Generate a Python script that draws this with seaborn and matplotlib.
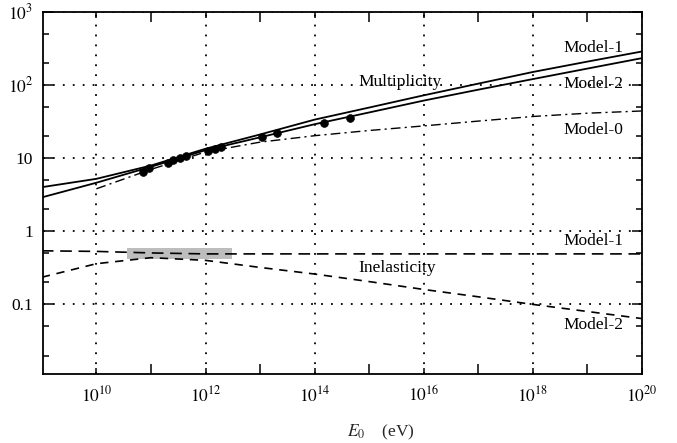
import numpy as np
import pandas as pd
import matplotlib
matplotlib.use("Agg")
import matplotlib.pyplot as plt
import matplotlib.ticker as mticker
import seaborn as sns

energy = [1e9, 1e10, 1e11, 1e12, 1e13, 1e14, 1e15, 1e16, 1e17, 1e18, 1e19, 1e20]

# multiplicity
mult_model1 = [4.0, 5.2, 7.9, 13.4, 21.0, 33.5, 49.0, 72.0, 104.0, 150.0, 208.0, 286.0]
mult_model2 = [2.9, 4.6, 7.6, 12.8, 19.2, 29.0, 42.0, 61.0, 86.0, 120.0, 167.0, 232.0]
energy_m0 = [1e10, 1e11, 1e12, 1e13, 1e14, 1e15, 1e16, 1e17, 1e18, 1e19, 1e20]
mult_model0 = [3.8, 7.0, 12.1, 16.5, 20.2, 23.8, 27.5, 32.0, 37.0, 41.0, 44.0]

# inelasticity
inel_model1 = [0.54, 0.53, 0.505, 0.49, 0.49, 0.49, 0.49, 0.49, 0.49, 0.49, 0.49, 0.49]
inel_model2 = [0.235, 0.36, 0.435, 0.40, 0.32, 0.26, 0.205, 0.16, 0.127, 0.10, 0.08, 0.064]

# measured multiplicities
data_energy = [10**10.86, 10**10.97, 10**11.31, 10**11.41, 10**11.53, 10**11.65,
               10**12.05, 10**12.17, 10**12.28, 10**13.03, 10**13.31, 10**14.17, 10**14.65]
data_mult = [6.5, 7.2, 8.6, 9.4, 10.1, 10.7, 12.6, 13.2, 14.0, 19.6, 22.2, 29.9, 35.6]

# grey band (measured inelasticity range)
band_x = (3.6e10, 3.1e12)
band_y = (0.42, 0.59)

sns.set_style("ticks")
plt.rcParams['font.family'] = ['Liberation Serif', 'DejaVu Serif']
plt.rcParams['mathtext.fontset'] = 'stix'

fig = plt.figure(figsize=(6.77, 4.43), dpi=100)
ax = fig.add_axes([0.0635, 0.1558, 0.8848, 0.8178])

ax.fill_between(band_x, band_y[0], band_y[1], color='#bdbdbd', lw=0, zorder=1)

curves = pd.DataFrame({'E': energy, 'm1': mult_model1, 'm2': mult_model2,
                       'k1': inel_model1, 'k2': inel_model2})
m0 = pd.DataFrame({'E': energy_m0, 'm0': mult_model0})
pts = pd.DataFrame({'E': data_energy, 'n': data_mult})

sns.lineplot(data=curves, x='E', y='m1', color='black', lw=1.3, ax=ax, zorder=3)
sns.lineplot(data=curves, x='E', y='m2', color='black', lw=1.3, ax=ax, zorder=3)
sns.lineplot(data=m0, x='E', y='m0', color='black', lw=1.0,
             linestyle=(0, (7, 3, 1.5, 3)), ax=ax, zorder=3)
sns.lineplot(data=curves, x='E', y='k1', color='black', lw=1.2,
             linestyle=(0, (7, 4)), ax=ax, zorder=3)
sns.lineplot(data=curves, x='E', y='k2', color='black', lw=1.2,
             linestyle=(0, (5, 4)), ax=ax, zorder=3)
sns.scatterplot(data=pts, x='E', y='n', color='black', s=32, edgecolor='black',
                ax=ax, zorder=4)

ax.set_xscale('log')
ax.set_yscale('log')
ax.set_xlim(1.05e9, 1e20)
ax.set_ylim(0.0112, 1000)

xt = [1e10, 1e12, 1e14, 1e16, 1e18, 1e20]
ax.xaxis.set_major_locator(mticker.FixedLocator(xt))
ax.set_xticklabels([r'$10^{10}$', r'$10^{12}$', r'$10^{14}$', r'$10^{16}$',
                    r'$10^{18}$', r'$10^{20}$'])
ax.xaxis.set_minor_locator(mticker.FixedLocator([1e11, 1e13, 1e15, 1e17, 1e19]))
ax.xaxis.set_minor_formatter(mticker.NullFormatter())

yt = [0.1, 1, 10, 100, 1000]
ax.yaxis.set_major_locator(mticker.FixedLocator(yt))
ax.set_yticklabels(['0.1', '1', '10', r'$10^{2}$', r'$10^{3}$'])
ax.yaxis.set_minor_locator(mticker.LogLocator(base=10, subs=(2.0, 5.0)))
ax.yaxis.set_minor_formatter(mticker.NullFormatter())

ax.tick_params(which='both', direction='in', top=True, right=True,
               colors='black', labelsize=12.5, width=1.1)
ax.tick_params(axis='x', which='major', length=4, pad=8)
ax.tick_params(axis='x', which='minor', length=7)
ax.tick_params(axis='y', which='major', length=7, pad=7)
ax.tick_params(axis='y', which='minor', length=4)

ax.grid(True, which='major', color='black', lw=1.3, linestyle=(0, (1, 4.5)))
for s in ax.spines.values():
    s.set_linewidth(1.3)
    s.set_color('black')

ax.set_xlabel(r'$E_{\mathit{0}}$    (eV)', fontsize=12.5)
ax.xaxis.set_label_coords(0.565, -0.135)
ax.set_ylabel('')

lab = dict(fontsize=12.5, ha='center', va='center', color='black', zorder=5,
           xycoords='figure fraction')
ax.annotate('Model-1', xy=(593 / 677, 1 - 48 / 443), **lab)
ax.annotate('Model-2', xy=(593 / 677, 1 - 84 / 443), **lab)
ax.annotate('Model-0', xy=(593 / 677, 1 - 130 / 443), **lab)
ax.annotate('Multiplicity', xy=(400 / 677, 1 - 82 / 443), **lab)
ax.annotate('Model-1', xy=(593 / 677, 1 - 241 / 443), **lab)
ax.annotate('Inelasticity', xy=(397 / 677, 1 - 268 / 443), **lab)
ax.annotate('Model-2', xy=(593 / 677, 1 - 325 / 443), **lab)

fig.savefig('out.png', dpi=100, facecolor='white')
